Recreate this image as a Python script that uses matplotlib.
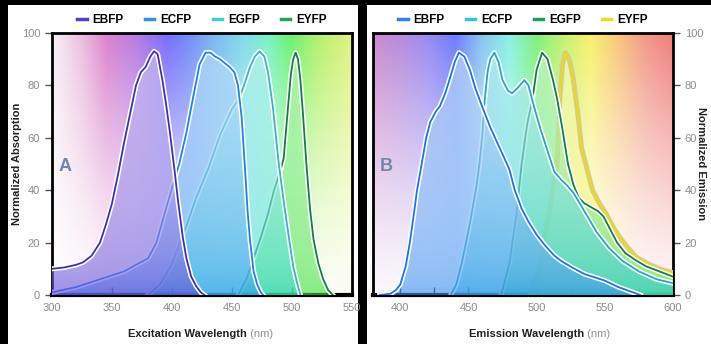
import matplotlib.pyplot as plt
import matplotlib.patheffects as pe
import numpy as np
from matplotlib.patches import Rectangle, Polygon
from matplotlib.lines import Line2D
from matplotlib.colors import to_rgb

plt.rcParams['font.family'] = ['Liberation Sans', 'DejaVu Sans']

names = ['EBFP', 'ECFP', 'EGFP', 'EYFP']

# Panel A - excitation spectra
ebfp_ex_wl = [300, 310, 320, 326, 333, 340, 345, 350, 355, 360, 365, 370, 374, 378, 382, 385,
              388, 392, 395, 398, 402, 405, 409, 412, 416, 420, 424, 427]
ebfp_ex = [10, 10.5, 11.5, 12.5, 15, 20, 27, 35, 46, 58, 69, 80, 85, 87, 91, 93,
           92, 82, 73, 63, 48, 36, 22, 14, 7, 3.5, 1, 0]
ecfp_ex_wl = [300, 320, 340, 360, 372, 380, 387, 395, 404, 406, 412, 417, 423, 428, 432, 436,
              440, 444, 448, 452, 455, 458, 461, 463, 465, 468, 471, 474, 476]
ecfp_ex = [1, 3, 6, 9, 12, 14, 20, 33, 47, 50, 62, 74, 88, 92.5, 92.5, 91,
           90, 88.5, 87, 85, 80, 68, 47, 32, 21, 9, 4, 1, 0]
egfp_ex_wl = [380, 390, 400, 411, 420, 430, 440, 450, 456, 460, 465, 469, 473, 477, 480, 484,
              489, 493, 498, 501, 504, 507]
egfp_ex = [0, 4, 12, 25, 37, 48, 61, 71, 75, 80, 87, 91, 93, 91, 85, 72,
           50, 36, 20, 11, 5, 0]
eyfp_ex_wl = [455, 462, 468, 474, 480, 485, 490, 493, 496, 499, 501, 503, 505, 507, 509, 512,
              515, 518, 522, 526, 530, 534]
eyfp_ex = [0, 6, 14, 22, 31, 40, 47, 52, 68, 84, 90, 92.5, 90, 82, 70, 50,
           33, 21, 12, 6, 2, 0]

# Panel B - emission spectra
ebfp_em_wl = [385, 393, 397, 400, 404, 407, 410, 412, 416, 419, 422, 426, 429, 433, 436, 440,
              443, 447, 451, 455, 460, 466, 473, 480, 484, 489, 494, 500, 506, 513, 518, 526,
              535, 544, 550, 560, 568, 576]
ebfp_em = [0, 0.5, 2, 4, 11, 20, 31, 39, 51, 60, 66, 70, 72, 77, 82, 89,
           92.5, 91, 86, 79, 72, 64, 56, 48, 40, 33, 28, 23, 19, 15, 13, 10.5,
           8, 6.5, 5.5, 3, 1.5, 0]
ecfp_em_wl = [437, 441, 445, 449, 452, 456, 458, 460, 462, 464, 466, 469, 472, 475, 479, 482,
              486, 491, 494, 498, 503, 508, 513, 518, 522, 527, 535, 544, 553, 563, 575, 588, 600]
ecfp_em = [0, 4, 12, 22, 30, 42, 50, 60, 75, 85, 90, 92.5, 89, 82, 78, 77,
           79, 82, 80, 72, 63, 55, 47, 44, 42, 39, 32, 24, 18, 13, 9, 6, 4.5]
egfp_em_wl = [474, 480, 485, 489, 493, 497, 500, 504, 508, 512, 515, 519, 523, 527, 531, 535,
              540, 545, 549, 554, 559, 565, 572, 580, 590, 600]
egfp_em = [0, 12, 30, 50, 65, 75, 86, 92.5, 90, 82, 75, 63, 50, 42, 37, 35,
           33.5, 32, 30, 25, 20, 16, 13.5, 11, 9, 7]
eyfp_em_wl = [495, 502, 508, 513, 515, 517, 519, 521, 524, 527, 530, 533, 537, 541, 546, 551,
              556, 561, 567, 573, 583, 593, 600]
eyfp_em = [0, 10, 28, 45, 50, 75, 88, 92.5, 90, 82, 70, 56, 48, 40, 35, 31,
           26, 22, 18, 14.5, 11.5, 9.5, 8.5]

# spectrum backdrop colour stops
bg_a_wl = [300, 325, 345, 370, 395, 410, 435, 460, 480, 500, 520, 550]
bg_a_col = ['#f6f0f6', '#eab8dc', '#d878c8', '#b070e0', '#7060f8', '#6878f8', '#70b0f0',
            '#78d8e8', '#70f0c0', '#60f060', '#a8f060', '#e0f070']
bg_b_wl = [380, 400, 420, 440, 460, 480, 500, 520, 540, 560, 580, 600]
bg_b_col = ['#c880c8', '#b080d8', '#9080f0', '#6070ff', '#80c0f0', '#80f0e0', '#70f070',
            '#c0f060', '#f8f060', '#f8c070', '#f09080', '#f07070']


def spectrum_bg(ax, stops_wl, stops_col, x0, x1):
    wl = np.linspace(x0, x1, 400)
    cols = np.array([to_rgb(c) for c in stops_col])
    rgb = np.stack([np.interp(wl, stops_wl, cols[:, i]) for i in range(3)], axis=-1)
    y = np.linspace(0, 1, 200)[:, None, None]
    s = 0.06 + 0.86 * y ** 1.3
    img = 1 - s * (1 - rgb[None, :, :])
    ax.imshow(img, extent=[x0, x1, 0, 100], origin='lower', aspect='auto',
              zorder=0, interpolation='bilinear')


def spectrum(ax, wl, val, fill, line, z, halo='white'):
    wl = np.asarray(wl, float)
    val = np.asarray(val, float)
    verts = np.column_stack([np.r_[wl[0], wl, wl[-1]], np.r_[0, val, 0]])
    poly = Polygon(verts, closed=True, facecolor='none', edgecolor='none')
    ax.add_patch(poly)
    c = np.array(to_rgb(fill))
    t = np.linspace(0, 1, 100)[:, None] ** 0.6
    top = 0.3 * c + 0.7
    rgb = c * (1 - t) + top * t
    rgba = np.concatenate([rgb, np.full((100, 1), 0.62)], axis=1)[:, None, :]
    im = ax.imshow(rgba, extent=[wl[0], wl[-1], 0, 100], origin='lower', aspect='auto',
                   zorder=z, interpolation='bilinear')
    im.set_clip_path(poly)
    ax.plot(wl, val, color=line, lw=1.3, zorder=z + 0.5,
            path_effects=[pe.Stroke(linewidth=3.6, foreground=halo), pe.Normal()])


def style_axes(ax, x0, x1, right=False):
    ax.set_xlim(x0, x1)
    ax.set_ylim(0, 100)
    for s in ax.spines.values():
        s.set_linewidth(2)
        s.set_color('black')
    ax.spines['bottom'].set_linewidth(3)
    ax.set_yticks(range(0, 101, 20))
    ax.tick_params(axis='y', direction='out', length=5, width=1, color='#555555',
                   labelcolor='#8c8c8c', labelsize=8)
    ax.tick_params(axis='x', direction='in', length=6, width=1, color='#333333',
                   labelcolor='#8c8c8c', labelsize=8, pad=6)
    if right:
        ax.yaxis.tick_right()


fig = plt.figure(figsize=(7.11, 3.44), dpi=100, facecolor='black')
fig.patches.append(Rectangle((8 / 711, 0), 350 / 711, 339 / 344, transform=fig.transFigure,
                             facecolor='white', edgecolor='none', zorder=-5))
fig.patches.append(Rectangle((367 / 711, 0), 344 / 711, 339 / 344, transform=fig.transFigure,
                             facecolor='white', edgecolor='none', zorder=-5))

axA = fig.add_axes([52 / 711, 49 / 344, 300 / 711, 262 / 344])
axB = fig.add_axes([373 / 711, 49 / 344, 300 / 711, 262 / 344])

# ---- Panel A
spectrum_bg(axA, bg_a_wl, bg_a_col, 300, 550)
spectrum(axA, eyfp_ex_wl, eyfp_ex, '#38e038', '#108040', 4)
spectrum(axA, egfp_ex_wl, egfp_ex, '#30d8d0', '#30b8c8', 5)
spectrum(axA, ecfp_ex_wl, ecfp_ex, '#3098f0', '#2080f0', 6)
spectrum(axA, ebfp_ex_wl, ebfp_ex, '#6048d8', '#4030b0', 7)
style_axes(axA, 300, 550)
axA.set_xticks(range(300, 551, 50))
axA.set_ylabel('Normalized Absorption', fontsize=8, fontweight='bold', color='#202020')
axA.yaxis.set_label_coords(-0.1, 0.5)
tA = axA.text(0.453, -0.15, 'Excitation Wavelength', transform=axA.transAxes, ha='center',
              va='center', fontsize=8, fontweight='bold', color='#202020')
axA.annotate(' (nm)', xy=(1, 0.5), xycoords=tA, ha='left', va='center', fontsize=8,
             color='#909090')
axA.text(311, 49, 'A', fontsize=13, fontweight='bold', color='#7686a4', ha='center',
         va='center', zorder=10)
lgA = [Line2D([], [], color=c, lw=2.5) for c in ['#5040d0', '#3090f0', '#40d0d0', '#30a060']]
axA.legend(lgA, names, ncol=4, loc='lower center', bbox_to_anchor=(0.5, 1.0), frameon=False,
           handlelength=0.8, handletextpad=0.5, columnspacing=1.8,
           prop={'weight': 'bold', 'size': 8.5}, borderaxespad=0.2)

# ---- Panel B
spectrum_bg(axB, bg_b_wl, bg_b_col, 380, 600)
spectrum(axB, eyfp_em_wl, eyfp_em, '#f4f040', '#e8e000', 4, halo='#d8c8a0')
spectrum(axB, egfp_em_wl, egfp_em, '#40e060', '#108040', 5)
spectrum(axB, ecfp_em_wl, ecfp_em, '#20c8d8', '#20a8c0', 6)
spectrum(axB, ebfp_em_wl, ebfp_em, '#3890f0', '#2070f0', 7)
style_axes(axB, 380, 600, right=True)
axB.set_xticks(range(400, 601, 50))
axB.set_xticks(range(425, 600, 50), minor=True)
axB.tick_params(axis='x', which='minor', direction='in', length=6, width=1, color='#333333')
axB.yaxis.set_label_position('right')
axB.set_ylabel('Normalized Emission', fontsize=8, fontweight='bold', color='#202020',
               rotation=-90, va='center')
axB.yaxis.set_label_coords(1.095, 0.5)
tB = axB.text(0.512, -0.15, 'Emission Wavelength', transform=axB.transAxes, ha='center',
              va='center', fontsize=8, fontweight='bold', color='#202020')
axB.annotate(' (nm)', xy=(1, 0.5), xycoords=tB, ha='left', va='center', fontsize=8,
             color='#909090')
axB.text(389.5, 49, 'B', fontsize=13, fontweight='bold', color='#7686a4', ha='center',
         va='center', zorder=10)
lgB = [Line2D([], [], color=c, lw=2.5) for c in ['#3080f0', '#30c8d8', '#20a050', '#e8e020']]
axB.legend(lgB, names, ncol=4, loc='lower center', bbox_to_anchor=(0.5, 1.0), frameon=False,
           handlelength=0.8, handletextpad=0.5, columnspacing=1.8,
           prop={'weight': 'bold', 'size': 8.5}, borderaxespad=0.2)

fig.savefig('out.png', dpi=100, facecolor='black')
